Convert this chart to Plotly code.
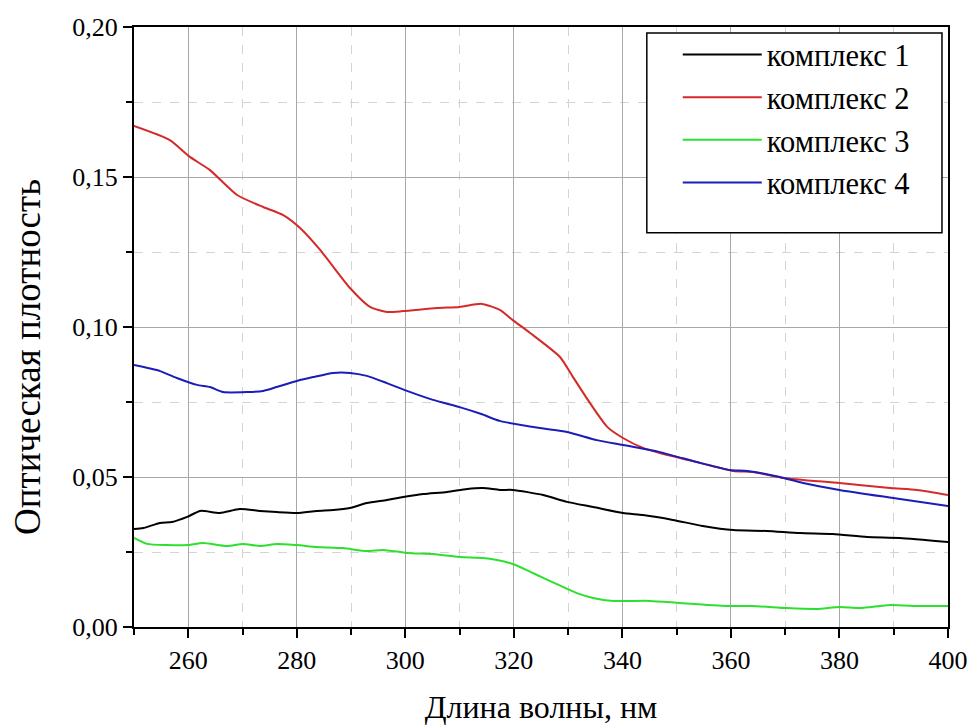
import plotly.graph_objects as go

# ---- data ----
wl_1 = [250, 251.7, 254.8, 257, 259.8, 262.2, 265.8, 269.5, 273.2, 276.3, 280, 283.7, 286.7, 289.8,
        292.9, 296.6, 299.6, 303.3, 307.7, 311.4, 314.3, 317.4, 319.8, 325.4, 329.8, 334.6, 340.1,
        343.8, 349.3, 354.8, 360.4, 366.6, 372.7, 378.8, 385.1, 391.1, 400]
od_1 = [0.0327, 0.033, 0.0347, 0.035, 0.0367, 0.0387, 0.038, 0.0393, 0.0387, 0.0383, 0.038, 0.0387,
        0.039, 0.0397, 0.0413, 0.0423, 0.0433, 0.0443, 0.045, 0.046, 0.0463, 0.0457, 0.0457, 0.044,
        0.0417, 0.040, 0.038, 0.0373, 0.0357, 0.0337, 0.0323, 0.032, 0.0313, 0.031, 0.030, 0.0297, 0.0283]

wl_2 = [250, 256.6, 260.3, 264, 269, 273.8, 277.5, 280.6, 284.3, 289.8, 293.5, 296.6, 299.6, 305.8,
        310, 314.1, 317.4, 319.8, 323, 328.5, 330.9, 334, 337.2, 340.1, 343.8, 346.9, 354.3, 360.4,
        364, 369.6, 380, 389.3, 394.3, 400]
od_2 = [0.167, 0.1623, 0.1567, 0.1523, 0.144, 0.140, 0.1373, 0.133, 0.1257, 0.113, 0.1067, 0.105,
        0.1053, 0.1063, 0.1067, 0.1077, 0.1057, 0.1023, 0.098, 0.090, 0.0833, 0.0747, 0.0667, 0.063,
        0.0597, 0.058, 0.0547, 0.052, 0.0517, 0.0497, 0.048, 0.0463, 0.0457, 0.044]

wl_3 = [250, 252.4, 256.1, 259.8, 262.7, 267.1, 270.1, 273.2, 276.3, 280, 283.7, 288.5, 292.9, 295.9,
        300.3, 305.1, 310, 314.3, 316.9, 319.8, 323.5, 327.9, 331.6, 334.6, 338.3, 345.1, 350.6,
        359.3, 364, 370.3, 375.8, 380, 383.8, 389.3, 394.8, 400]
od_3 = [0.0297, 0.0277, 0.0273, 0.0273, 0.028, 0.027, 0.0277, 0.027, 0.0277, 0.0273, 0.0267, 0.0263,
        0.0253, 0.0257, 0.0247, 0.0243, 0.0233, 0.023, 0.0223, 0.021, 0.018, 0.0143, 0.0113, 0.0097,
        0.0087, 0.0087, 0.008, 0.007, 0.007, 0.0063, 0.006, 0.0067, 0.0063, 0.0073, 0.007, 0.007]

wl_4 = [250, 254.8, 257.9, 261.6, 264, 266.4, 270.8, 273.8, 276.3, 280, 283, 286.7, 289.8, 292.9,
        296.6, 300.3, 305.1, 310, 314, 317.4, 324.8, 329.8, 335.3, 340.1, 346.9, 354.3, 359.8, 363,
        369, 373.3, 380, 389.9, 400]
od_4 = [0.0873, 0.0853, 0.083, 0.0807, 0.080, 0.0783, 0.0783, 0.0787, 0.080, 0.082, 0.0833, 0.0847,
        0.0847, 0.0837, 0.0813, 0.0787, 0.0757, 0.0733, 0.071, 0.0687, 0.0663, 0.065, 0.0623, 0.0607,
        0.0583, 0.0547, 0.0523, 0.052, 0.050, 0.048, 0.0457, 0.043, 0.0403]

series_names = ["комплекс 1", "комплекс 2", "комплекс 3", "комплекс 4"]
series_colors = ["#000000", "#d42a2a", "#2ee02e", "#1c1cb8"]

x_ticks = [260, 280, 300, 320, 340, 360, 380, 400]
y_ticks = [0.00, 0.05, 0.10, 0.15, 0.20]
y_tick_text = ["0,00", "0,05", "0,10", "0,15", "0,20"]

x_title = "Длина волны, нм"
y_title = "Оптическая плотность"

FONT = "Times New Roman, Liberation Serif, serif"

fig = go.Figure()
for wl, od, name, color in zip([wl_1, wl_2, wl_3, wl_4], [od_1, od_2, od_3, od_4],
                               series_names, series_colors):
    fig.add_trace(go.Scatter(x=wl, y=od, mode="lines", name=name,
                             line=dict(color=color, width=2, shape="spline", smoothing=0.6)))

axis_common = dict(
    showline=True, linecolor="black", linewidth=2, mirror=True,
    ticks="outside", ticklen=9, tickwidth=2, tickcolor="black",
    showgrid=True, gridcolor="#a8a8a8", gridwidth=1,
    zeroline=False, ticklabeloverflow="allow", automargin=False,
    tickfont=dict(family=FONT, size=26, color="black"),
)

fig.update_xaxes(
    range=[250, 400], tickvals=x_ticks,
    minor=dict(dtick=10, tick0=250, ticks="outside", ticklen=6, tickwidth=2, tickcolor="black",
               showgrid=True, gridcolor="#d4d4d4", griddash="dash", gridwidth=1),
    title=dict(text=x_title, font=dict(family=FONT, size=32, color="black"), standoff=25),
    **axis_common,
)
fig.update_yaxes(
    range=[0, 0.2], tickvals=y_ticks, ticktext=y_tick_text,
    minor=dict(dtick=0.025, tick0=0, ticks="outside", ticklen=6, tickwidth=2, tickcolor="black",
               showgrid=True, gridcolor="#d4d4d4", griddash="dash", gridwidth=1),
    **axis_common,
)

# y-axis title (placed slightly below the axis centre, as in the original)
fig.add_annotation(text=y_title, xref="paper", yref="paper", x=-0.1314, y=0.45,
                   xanchor="center", yanchor="middle", textangle=-90, showarrow=False,
                   font=dict(family=FONT, size=37, color="black"))

fig.add_shape(type="rect", xref="paper", yref="paper",
              x0=0.630, x1=0.9926, y0=0.657, y1=0.99,
              line=dict(color="black", width=1.5), fillcolor="white", layer="above")

fig.update_layout(
    width=971, height=725,
    margin=dict(l=134, r=23, t=27, b=98),
    paper_bgcolor="white", plot_bgcolor="white",
    showlegend=True,
    legend=dict(x=0.668, y=0.998, xanchor="left", yanchor="top",
                bgcolor="rgba(0,0,0,0)", borderwidth=0,
                font=dict(family=FONT, size=30.5, color="black"),
                itemwidth=79, tracegroupgap=0),
    font=dict(family=FONT),
)

fig.write_html("out.html")
